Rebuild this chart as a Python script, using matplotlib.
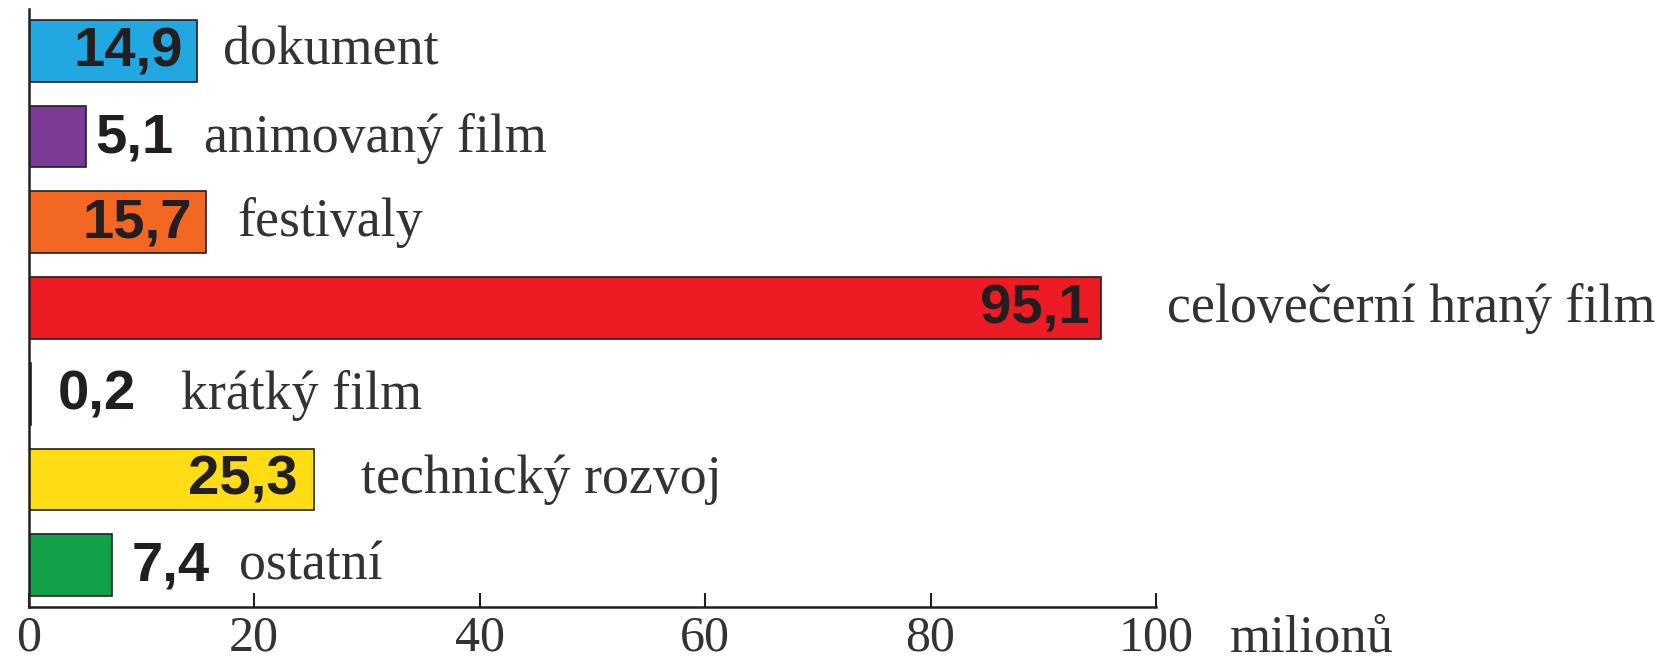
import matplotlib.pyplot as plt
import numpy as np

# data
categories = ['dokument', 'animovaný film', 'festivaly', 'celovečerní hraný film',
              'krátký film', 'technický rozvoj', 'ostatní']
values = [14.9, 5.1, 15.7, 95.1, 0.2, 25.3, 7.4]
value_labels = ['14,9', '5,1', '15,7', '95,1', '0,2', '25,3', '7,4']
colors = ['#22A8E0', '#7B3A96', '#F26722', '#ED1C24', '#231F20', '#FFDD15', '#12A04A']
inside = [True, False, True, True, False, True, False]
xticks = [0, 20, 40, 60, 80, 100]

# layout: offsets (pt) for the value text and the category label
value_gap = [-10, 6.5, -10, -8, 19.5, -12, 14]
label_gap = [19, 22, 23, 48, 32, 34, 21]

dark = '#231F20'
serif = ['Liberation Serif', 'DejaVu Serif']
bold = ['Liberation Sans Narrow', 'Liberation Sans', 'DejaVu Sans']

fig = plt.figure(figsize=(16.63, 6.61), dpi=100)
x0 = 28.6 / 1663
x1 = 1156 / 1663
ax = fig.add_axes([x0, 1 - 607 / 661, x1 - x0, (607 - 9) / 661])

ypos = np.arange(len(categories))[::-1]
ax.barh(ypos, values, height=0.72, color=colors, edgecolor=dark, linewidth=1.2)

ax.set_xlim(0, 100)
ax.set_ylim(-0.49, 6.49)

for y, v, vl, cat, ins, vg, gap in zip(ypos, values, value_labels, categories,
                                       inside, value_gap, label_gap):
    if ins:
        ax.annotate(vl, (v, y), xytext=(vg, -1), textcoords='offset points',
                    ha='right', va='center', fontsize=40.5, fontweight='bold',
                    family=bold, color=dark)
        ax.annotate(cat, (v, y), xytext=(gap, 0), textcoords='offset points',
                    ha='left', va='center', fontsize=38.8, family=serif,
                    color='#333333', annotation_clip=False)
    else:
        t = ax.annotate(vl, (v, y), xytext=(vg, -1), textcoords='offset points',
                        ha='left', va='center', fontsize=40.5, fontweight='bold',
                        family=bold, color=dark)
        ax.annotate(cat, xy=(1, 0.5), xycoords=t, xytext=(gap, 0), textcoords='offset points',
                    ha='left', va='center', fontsize=38.8, family=serif,
                    color='#333333', annotation_clip=False)

ax.set_xticks(xticks)
ax.set_xticklabels([str(t) for t in xticks], family=serif, fontsize=36, color='#333333')
ax.set_yticks([])
ax.tick_params(axis='x', direction='in', length=10, width=1.5, color=dark, pad=6)

for s in ['top', 'right']:
    ax.spines[s].set_visible(False)
for s in ['left', 'bottom']:
    ax.spines[s].set_linewidth(1.8)
    ax.spines[s].set_color(dark)

ax.text(1230 / 1663, 1 - 638 / 661, 'milionů', transform=fig.transFigure,
        family=serif, fontsize=38, color='#333333', ha='left', va='center')

fig.savefig('out.png', dpi=100)
